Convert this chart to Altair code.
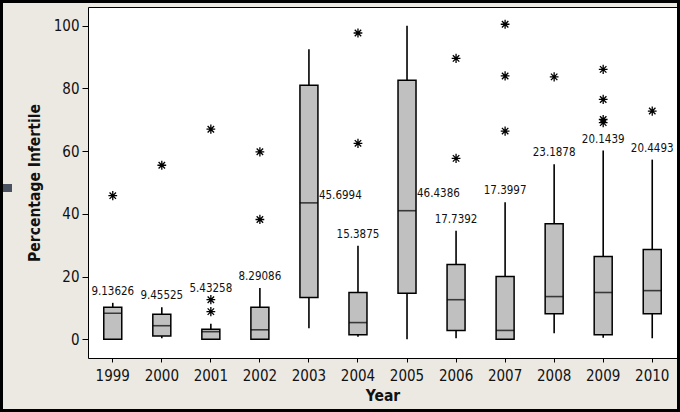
import altair as alt
import pandas as pd

years = ["1999", "2000", "2001", "2002", "2003", "2004",
         "2005", "2006", "2007", "2008", "2009", "2010"]
q1 = [0.0, 1.0, 0.0, 0.0, 13.3, 1.4, 14.7, 2.8, 0.0, 8.1, 1.4, 8.1]
median = [8.3, 4.3, 2.4, 3.0, 43.5, 5.3, 41.0, 12.6, 2.8, 13.6, 14.9, 15.5]
q3 = [10.2, 8.0, 3.2, 10.2, 81.0, 14.9, 82.6, 23.8, 20.0, 36.8, 26.4, 28.6]
whisker_low = [0.0, 0.3, 0.0, 0.0, 3.5, 0.8, 0.0, 0.3, 0.0, 1.9, 0.5, 0.3]
whisker_high = [11.6, 10.2, 4.9, 16.3, 92.5, 29.8, 100.0, 34.6, 43.7, 55.8, 60.2, 57.3]
mean_labels = ["9.13626", "9.45525", "5.43258", "8.29086", "45.6994", "15.3875",
               "46.4386", "17.7392", "17.3997", "23.1878", "20.1439", "20.4493"]
outliers = {
    "1999": [45.8],
    "2000": [55.5],
    "2001": [67.0, 12.6, 8.8],
    "2002": [59.8, 38.2],
    "2003": [],
    "2004": [97.7, 62.5],
    "2005": [],
    "2006": [89.6, 57.7],
    "2007": [100.5, 84.0, 66.4],
    "2008": [83.7],
    "2009": [86.1, 76.5, 70.1, 69.1],
    "2010": [72.8],
}
side_label_years = ["2003", "2005"]

rows = []
for i, yr in enumerate(years):
    near = [o for o in outliers[yr] if whisker_high[i] < o < 20]
    anchor = max([whisker_high[i]] + near)
    rows.append(dict(year=yr, q1=q1[i], med=median[i], q3=q3[i],
                     lo=whisker_low[i], hi=whisker_high[i],
                     label=mean_labels[i], mean=float(mean_labels[i]),
                     anchor=anchor, side=yr in side_label_years))
df = pd.DataFrame(rows)
out_df = pd.DataFrame([dict(year=yr, value=v) for yr in years for v in outliers[yr]])

FONT = "DejaVu Sans Condensed"
xscale = alt.Scale(domain=years, paddingInner=0.63, paddingOuter=0.32)
yscale = alt.Scale(domain=[-6, 106], nice=False, zero=False)

x_enc = alt.X("year:N", scale=xscale, title="Year",
              axis=alt.Axis(labelAngle=0, tickSize=4, domain=False))
y_enc = alt.Y("lo:Q", scale=yscale, title="Percentage Infertile",
              axis=alt.Axis(values=[0, 20, 40, 60, 80, 100], tickSize=6, domain=False))

base = alt.Chart(df)

whiskers = base.mark_rule(color="black", strokeWidth=1.6).encode(
    x=x_enc, y=y_enc, y2="hi:Q")

boxes = base.mark_bar(size=18, fill="#c0c0c0", stroke="black", strokeWidth=1.5).encode(
    x="year:N", y="q1:Q", y2="q3:Q")

medians = base.mark_tick(size=18, thickness=1.6, color="black", orient="horizontal").encode(
    x="year:N", y="med:Q")

star = "M0,-1L0,1M-0.95,0L0.95,0M-0.7,-0.7L0.7,0.7M-0.7,0.7L0.7,-0.7"
outs = alt.Chart(out_df).mark_point(shape=star, size=85, filled=False,
                                    stroke="black", strokeWidth=1.3, opacity=1).encode(
    x="year:N", y="value:Q")

top_labels = base.transform_filter("!datum.side").mark_text(
    font=FONT, fontSize=11.5, color="#111", baseline="bottom", dy=-6).encode(
    x="year:N", y="anchor:Q", text="label:N")

side_labels = base.transform_filter("datum.side").mark_text(
    font=FONT, fontSize=11.5, color="#111", align="left", baseline="middle", dx=10).encode(
    x="year:N", y="mean:Q", text="label:N")

one = alt.Chart(pd.DataFrame({"k": [0]}))
frame = one.mark_rect(fill=None, stroke="black", strokeWidth=3).encode(
    x=alt.value(-86.5), x2=alt.value(590.5), y=alt.value(-5.5), y2=alt.value(403.5))
marker = one.mark_rect(fill="#4a5262").encode(
    x=alt.value(-85), x2=alt.value(-76), y=alt.value(177), y2=alt.value(185))

chart = alt.layer(whiskers, boxes, medians, outs, top_labels, side_labels, frame, marker).properties(
    width=589, height=351,
    autosize=alt.AutoSizeParams(type="none"),
    padding={"left": 88, "top": 7, "right": 3, "bottom": 54},
    background="#ece9e3",
).configure_view(
    fill="white", stroke="black", strokeWidth=1
).configure_axis(
    labelFont=FONT, labelFontSize=15, labelColor="#111",
    titleFont=FONT, titleFontSize=15.5, titleFontWeight="bold", titleColor="#111",
    tickColor="black", grid=False,
).configure_axisX(
    labelPadding=6, titlePadding=5,
).configure_axisY(
    labelPadding=3, titlePadding=11,
)

chart.save("out.html", embed_options={"renderer": "svg", "actions": False})
